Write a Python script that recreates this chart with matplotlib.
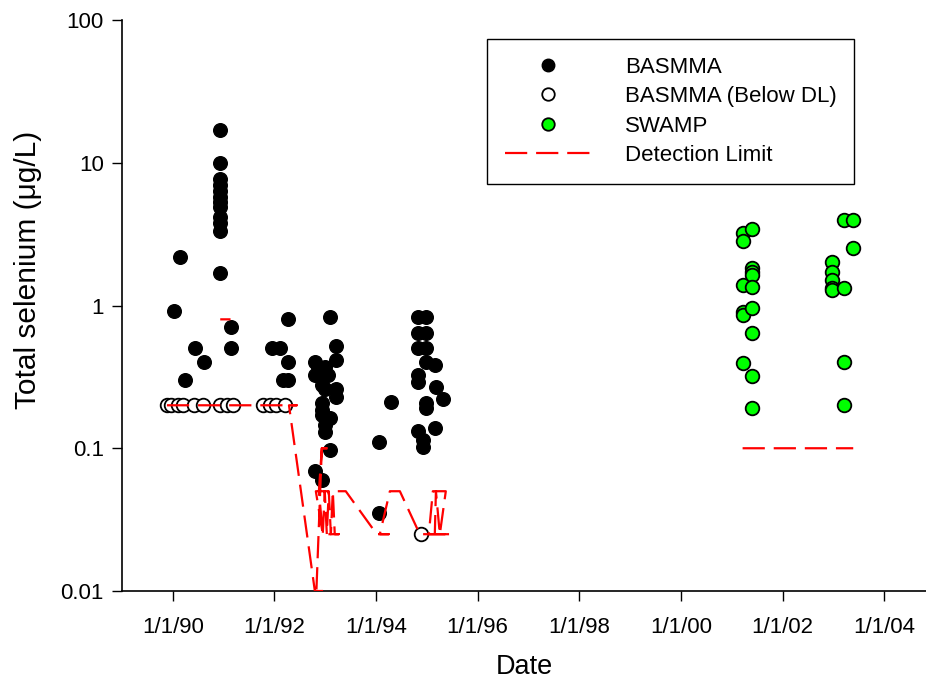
import numpy as np
import pandas as pd
import matplotlib
matplotlib.use("Agg")
import matplotlib.pyplot as plt
import matplotlib.dates as mdates
from matplotlib.lines import Line2D

plt.rcParams['font.family'] = ['Liberation Sans', 'DejaVu Sans']

# BASMMA detected values (date, ug/L)
basmma_dates = [
    '1990-01-08', '1990-02-25', '1990-03-28', '1990-06-12', '1990-08-12',
    '1990-12-08', '1990-12-08', '1990-12-08', '1990-12-08', '1990-12-08', '1990-12-08',
    '1990-12-08', '1990-12-08', '1990-12-08', '1990-12-08', '1990-12-08', '1990-12-08',
    '1991-02-20', '1991-02-20',
    '1991-12-16', '1992-02-10', '1992-03-05', '1992-04-05', '1992-04-05', '1992-04-05',
    '1992-10-18', '1992-10-18', '1992-10-18',
    '1992-11-10', '1992-12-05', '1992-12-05', '1992-12-05', '1992-12-05', '1992-12-05',
    '1992-12-05', '1992-12-28', '1992-12-28', '1992-12-28', '1992-12-28', '1993-01-21',
    '1993-02-02', '1993-02-02', '1993-02-02',
    '1993-03-21', '1993-03-21', '1993-03-21', '1993-03-21',
    '1994-01-25', '1994-01-25', '1994-04-20',
    '1994-10-30', '1994-10-30', '1994-10-30', '1994-10-30', '1994-10-30', '1994-10-30',
    '1994-12-05', '1994-12-05',
    '1994-12-28', '1994-12-28', '1994-12-28', '1994-12-28', '1994-12-28', '1994-12-28',
    '1995-02-28', '1995-02-28', '1995-03-10', '1995-04-25',
]
basmma_values = [
    0.91, 2.2, 0.30, 0.50, 0.40,
    17.0, 10.0, 7.7, 7.0, 6.3, 5.8,
    5.3, 4.9, 4.2, 3.8, 3.3, 1.7,
    0.71, 0.50,
    0.50, 0.50, 0.30, 0.81, 0.40, 0.30,
    0.40, 0.326, 0.069,
    0.37, 0.317, 0.277, 0.207, 0.185, 0.171,
    0.06, 0.37, 0.259, 0.146, 0.13, 0.326,
    0.835, 0.162, 0.097,
    0.52, 0.415, 0.262, 0.23,
    0.111, 0.035, 0.212,
    0.83, 0.645, 0.50, 0.325, 0.29, 0.133,
    0.114, 0.102,
    0.83, 0.645, 0.50, 0.40, 0.206, 0.19,
    0.38, 0.138, 0.267, 0.223,
]

# BASMMA below detection limit
below_dates = [
    '1989-11-20', '1989-12-20', '1990-02-06', '1990-03-14', '1990-06-06', '1990-08-07',
    '1990-12-06', '1991-01-23', '1991-03-11', '1991-10-12', '1991-11-28', '1992-01-15',
    '1992-03-14', '1994-11-17',
]
below_values = [0.2] * 13 + [0.025]

# SWAMP
swamp_dates = [
    '2001-03-19', '2001-03-19', '2001-03-19', '2001-03-19', '2001-03-19', '2001-03-19',
    '2001-05-22', '2001-05-22', '2001-05-22', '2001-05-22', '2001-05-22', '2001-05-22',
    '2001-05-22', '2001-05-22', '2001-05-22',
    '2002-12-24', '2002-12-24', '2002-12-24', '2002-12-24', '2002-12-24', '2002-12-24',
    '2003-03-18', '2003-03-18', '2003-03-18', '2003-03-18',
    '2003-05-23', '2003-05-23',
]
swamp_values = [
    3.2, 2.84, 1.39, 0.905, 0.86, 0.397,
    3.42, 1.82, 1.73, 1.64, 1.35, 0.955,
    0.64, 0.32, 0.19,
    8.2, 2.03, 1.73, 1.51, 1.32, 1.28,
    4.0, 1.32, 0.404, 0.2,
    4.0, 2.52,
]

# detection limit, in the order the samples were listed (None = break)
dl_dates = [
    '1989-11-20', '1992-06-10', '1992-04-15', '1992-10-18', '1992-12-18', '1992-10-29',
    '1992-12-07', '1993-02-17', '1992-12-07', '1992-11-16', '1992-12-14', '1992-12-28',
    '1993-01-12', '1993-01-26', '1993-02-10', '1993-02-24', '1993-03-10', '1993-04-08',
    '1992-12-14', '1992-10-25', '1993-05-28', '1994-01-06', '1994-04-02', '1994-01-28',
    '1994-04-10', '1994-06-21', '1994-11-11', '1995-06-28', '1995-01-15', '1995-02-13',
    '1995-05-17', '1995-04-04', '1995-03-07', '1995-02-27',
    None,
    '1990-12-08', '1991-02-20',
    None,
    '2001-03-19', '2003-05-23',
]
dl_values = [
    0.2, 0.2, 0.2, 0.01, 0.01, 0.01,
    0.1, 0.1, 0.1, 0.05, 0.025, 0.05,
    0.025, 0.05, 0.025, 0.05, 0.025, 0.025,
    0.025, 0.05, 0.05, 0.025, 0.025, 0.025,
    0.05, 0.05, 0.025, 0.025, 0.025, 0.05,
    0.05, 0.025, 0.05, 0.025,
    np.nan,
    0.8, 0.8,
    np.nan,
    0.1, 0.1,
]

tick_years = [1990, 1992, 1994, 1996, 1998, 2000, 2002, 2004]
tick_labels = ['1/1/90', '1/1/92', '1/1/94', '1/1/96', '1/1/98', '1/1/00', '1/1/02', '1/1/04']


def to_dates(lst):
    return [pd.Timestamp(d) if d is not None else pd.NaT for d in lst]


fig = plt.figure(figsize=(9.26, 6.81), dpi=100)
ax = fig.add_axes([122 / 926, 90 / 681, 804 / 926, 571 / 681])

ms = 9.8
ax.plot(to_dates(basmma_dates), basmma_values, 'o', color='black', ms=ms, mec='black', zorder=3)
ax.plot(to_dates(below_dates), below_values, 'o', mfc='white', mec='black', mew=1.3, ms=ms, zorder=3)
ax.plot(to_dates(swamp_dates), swamp_values, 'o', mfc='#00ff00', mec='black', mew=1.3, ms=ms, zorder=3)

dl_x = [mdates.date2num(pd.Timestamp(d)) if d is not None else np.nan for d in dl_dates]
ax.plot(dl_x, dl_values, color='red', lw=1.6, dashes=(10, 4), zorder=4)

ax.set_yscale('log')
ax.set_ylim(0.01, 100)
ax.set_yticks([0.01, 0.1, 1, 10, 100])
ax.set_yticklabels(['0.01', '0.1', '1', '10', '100'])
ax.yaxis.set_minor_locator(matplotlib.ticker.NullLocator())

ax.set_xlim(mdates.date2num(pd.Timestamp('1989-01-01')), mdates.date2num(pd.Timestamp('2004-10-27')))
ax.set_xticks([mdates.date2num(pd.Timestamp(f'{y}-01-01')) for y in tick_years])
ax.set_xticklabels(tick_labels)

for s in ['top', 'right']:
    ax.spines[s].set_visible(False)
for s in ['left', 'bottom']:
    ax.spines[s].set_linewidth(1.2)

ax.tick_params(axis='both', direction='out', length=7, width=1, labelsize=16)
ax.tick_params(axis='x', pad=12)
ax.tick_params(axis='y', pad=6)

ax.set_xlabel('Date', fontsize=19.5, labelpad=11)
ax.set_ylabel('Total selenium (\u03bcg/L)', fontsize=21.5)
ax.yaxis.set_label_coords(-0.099, (591 - 270) / 571)

handles = [
    Line2D([], [], marker='o', ls='none', color='black', ms=9),
    Line2D([], [], marker='o', ls='none', mfc='white', mec='black', mew=1.3, ms=9),
    Line2D([], [], marker='o', ls='none', mfc='#00ff00', mec='black', mew=1.3, ms=9),
    Line2D([], [], color='red', lw=1.6, dashes=(10, 4)),
]
labels = ['BASMMA', 'BASMMA (Below DL)', 'SWAMP', 'Detection Limit']
leg = ax.legend(handles, labels, loc='upper left', bbox_to_anchor=(487 / 926, 1 - 39 / 681),
                bbox_transform=fig.transFigure, fontsize=16, frameon=True, fancybox=False,
                edgecolor='black', framealpha=1, handlelength=3.9, handletextpad=1.5,
                borderpad=0.8, labelspacing=0.38, borderaxespad=0)
leg.get_frame().set_linewidth(1.0)
leg.set_zorder(10)

fig.savefig('out.png', dpi=100)
